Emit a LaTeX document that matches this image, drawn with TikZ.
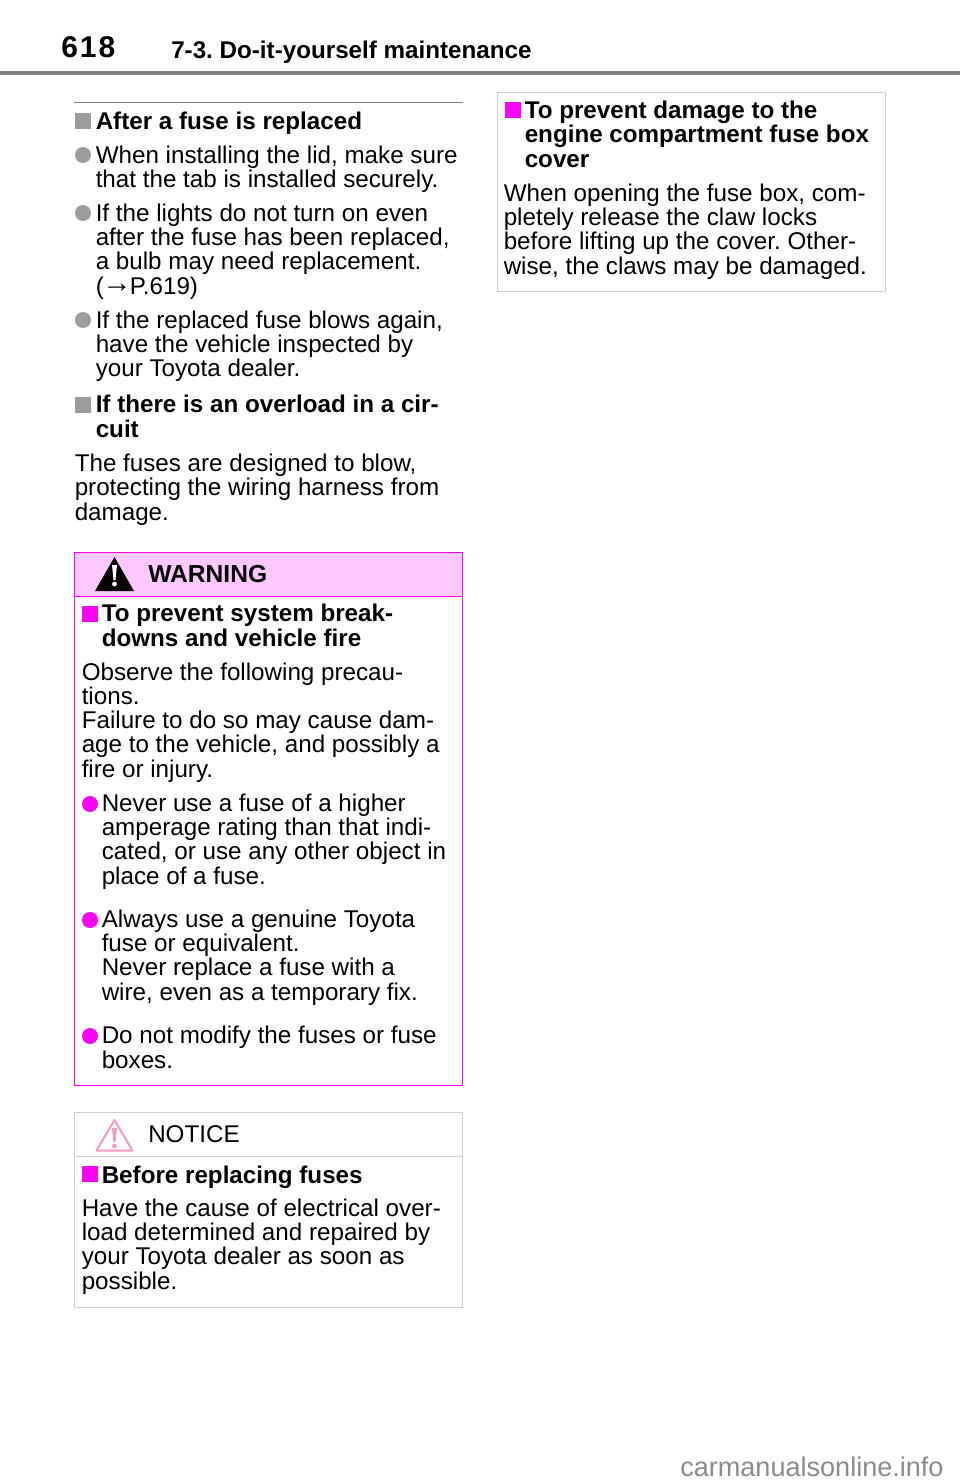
\documentclass[tikz,border=0pt]{standalone}
\usepackage{fontspec}
\setmainfont{Liberation Sans}
\definecolor{rulegray}{HTML}{808080}
\definecolor{bulgray}{HTML}{9C9C9C}
\definecolor{boxgray}{HTML}{CFCFCF}
\definecolor{warnpink}{HTML}{FF00FF}
\definecolor{warnfill}{HTML}{FFC8FF}
\definecolor{noticepink}{HTML}{F59AC0}
\definecolor{markgray}{HTML}{8C8C8C}
\newcommand{\bodysize}{\fontsize{18.15}{18.17}\selectfont}
\frenchspacing
\begin{document}
\begin{tikzpicture}[x=0.75pt,y=-0.75pt,
    body/.style={anchor=base west,inner sep=0pt,align=left,font=\bodysize},
    head/.style={body,font=\bodysize\bfseries},
    sqbul/.style={rectangle,fill=#1,inner sep=0pt,minimum size=12pt},
    dotbul/.style={circle,fill=#1,inner sep=0pt,minimum size=12pt}]
    \useasboundingbox (0,0) rectangle (960,1484);
    \fill[white] (0,0) rectangle (960,1484);
    % page header
    \draw[rulegray,line width=3pt] (0,73) -- (960,73);
    \node[head,font=\fontsize{22.5}{24}\selectfont\bfseries] (pagenum) at (61,58) {6\hspace{1.5pt}1\hspace{1.5pt}8};
    \node[head,font=\fontsize{18.15}{20}\selectfont\bfseries] (chapter) at (171,59) {7-3. Do-it-yourself maintenance};
    \draw[rulegray,line width=0.75pt] (74,103) -- (463,103);
    % left column
    \node[sqbul=bulgray] (s1) at (83,121) {};
    \node[head] (t1) at (95.5,130) {After a fuse is replaced};
    \node[dotbul=bulgray] (d1) at (83,155) {};
    \node[body] (t2) at (95.5,187.5) {When installing the lid, make sure\\that the tab is installed securely.};
    \node[dotbul=bulgray] (d2) at (83,213) {};
    \node[body] (t3) at (95.5,294) {If the lights do not turn on even\\after the fuse has been replaced,\\a bulb may need replacement.\\(\hspace{-1pt}\raisebox{1pt}{\fontsize{22}{22}\selectfont→}\hspace{-1.5pt}P.619)};
    \node[dotbul=bulgray] (d3) at (83,320) {};
    \node[body] (t4) at (95.5,376.5) {If the replaced fuse blows again,\\have the vehicle inspected by\\your Toyota dealer.};
    \node[sqbul=bulgray] (s2) at (83,405) {};
    \node[head] (t5) at (95.5,437) {If there is an overload in a cir-\\cuit};
    \node[body] (t6) at (74.5,520) {The fuses are designed to blow,\\protecting the wiring harness from\\damage.};
    % warning box
    \draw[warnpink,fill=warnfill,line width=0.75pt] (74.5,552) rectangle (462.5,596);
    \draw[warnpink,line width=0.75pt] (74.5,596) rectangle (462.5,1085.5);
    \fill[black] (114.5,557) -- (134,591) -- (95,591) -- cycle;
    \fill[white] (112,565) -- (117,565) -- (115.5,580) -- (113.5,580) -- cycle;
    \fill[white] (114.5,584) circle (2.4);
    \node[head,font=\fontsize{18.45}{20}\selectfont\bfseries] (warnlabel) at (148,582) {WARNING};
    \node[sqbul=warnpink] (s3) at (90,614) {};
    \node[head] (t7) at (101.5,646) {To prevent system break-\\downs and vehicle fire};
    \node[body] (t8) at (81.5,777) {Observe the following precau-\\tions.\\Failure to do so may cause dam-\\age to the vehicle, and possibly a\\fire or injury.};
    \node[dotbul=warnpink] (d4) at (90,804) {};
    \node[body] (t9) at (101.5,884) {Never use a fuse of a higher\\amperage rating than that indi-\\cated, or use any other object in\\place of a fuse.};
    \node[dotbul=warnpink] (d5) at (90,920) {};
    \node[body] (t10) at (101.5,1000) {Always use a genuine Toyota\\fuse or equivalent.\\Never replace a fuse with a\\wire, even as a temporary fix.};
    \node[dotbul=warnpink] (d6) at (90,1036) {};
    \node[body] (t11) at (101.5,1068) {Do not modify the fuses or fuse\\boxes.};
    % notice box
    \draw[boxgray,line width=0.75pt] (74.5,1112.5) rectangle (462.5,1307);
    \draw[boxgray,line width=0.75pt] (74.5,1156.5) -- (462.5,1156.5);
    \draw[noticepink,line width=1.5pt,line join=round] (114.5,1120) -- (132.5,1150.5) -- (96.5,1150.5) -- cycle;
    \fill[noticepink] (112,1128) -- (117,1128) -- (115.5,1142) -- (113.5,1142) -- cycle;
    \fill[noticepink] (114.5,1146) circle (2.4);
    \node[body] (noticelabel) at (148,1142) {NOTICE};
    \node[sqbul=warnpink] (s4) at (90,1174) {};
    \node[head] (t12) at (101.5,1183) {Before replacing fuses};
    \node[body] (t13) at (81.5,1289) {Have the cause of electrical over-\\load determined and repaired by\\your Toyota dealer as soon as\\possible.};
    % right column
    \draw[boxgray,line width=0.75pt] (497,92.5) rectangle (885.5,291);
    \node[sqbul=warnpink] (s5) at (513,110) {};
    \node[head] (t14) at (524.5,167) {To prevent damage to the\\engine compartment fuse box\\cover};
    \node[body] (t15) at (503.5,274) {When opening the fuse box, com-\\pletely release the claw locks\\before lifting up the cover. Other-\\wise, the claws may be damaged.};
    % watermark
    \node[body,font=\fontsize{20.3}{22}\selectfont,text=markgray] (site) at (680,1476) {carmanualsonline.info};
\end{tikzpicture}
\end{document}
